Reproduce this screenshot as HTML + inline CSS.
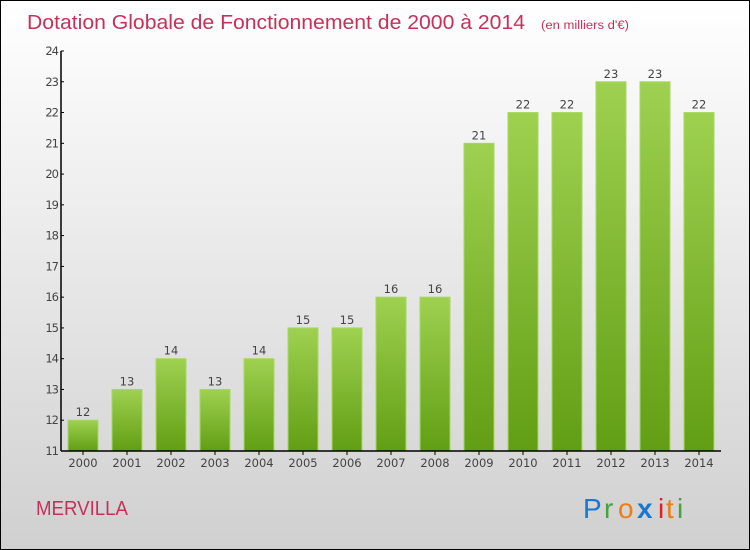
<!DOCTYPE html>
<html><head><meta charset="utf-8"><style>
body{margin:0;}
#c{position:relative;width:748px;height:548px;border:1px solid #000;background:linear-gradient(#fff,#d0d0d0);font-family:"DejaVu Sans","Liberation Sans",sans-serif;overflow:hidden;}
svg{position:absolute;left:0;top:0;}
</style></head><body>
<div id="c">
<svg width="748" height="548" id="s">
<defs><linearGradient id="g" x1="0" y1="0" x2="0" y2="1"><stop offset="0" stop-color="#9ed150"/><stop offset="1" stop-color="#629e15"/></linearGradient></defs>
<text x="26" y="28" font-size="20" fill="#c8305a" font-family="Liberation Sans, sans-serif" textLength="498" lengthAdjust="spacingAndGlyphs">Dotation Globale de Fonctionnement de 2000 à 2014</text>
<text x="540" y="28" font-size="11.5" fill="#c8305a" font-family="Liberation Sans, sans-serif" textLength="88" lengthAdjust="spacingAndGlyphs">(en milliers d'€)</text>
<text x="35" y="514" font-size="20" fill="#c8305a" font-family="Liberation Sans, sans-serif" textLength="92" lengthAdjust="spacingAndGlyphs">MERVILLA</text>
<g font-size="28" font-family="Liberation Sans, sans-serif">
<text x="582" y="517" fill="#1a78cc">P</text><text x="603" y="517" fill="#44a33a">r</text><text x="617" y="517" fill="#f07d10">o</text><text x="636" y="517" fill="#1a78cc" font-weight="bold">x</text><text x="657" y="517" fill="#e02020">i</text><text x="665" y="517" fill="#f07d10">t</text><text x="676" y="517" fill="#44a33a">i</text>
</g>
<g id="plot"></g>
</svg>
</div>
<script>
const years=["2000","2001","2002","2003","2004","2005","2006","2007","2008","2009","2010","2011","2012","2013","2014"];
const values=[12,13,14,13,14,15,15,16,16,21,22,22,23,23,22];
const yTicks=[11,12,13,14,15,16,17,18,19,20,21,22,23,24];
const X0=60,X1=720,Y0=450,Y1=50,YMIN=11,YMAX=24;
const band=(X1-X0)/years.length;
const y=v=>Y0-(v-YMIN)/(YMAX-YMIN)*(Y0-Y1);
const xc=i=>X0+band*(i+0.5);
const ns="http://www.w3.org/2000/svg";
const p=document.getElementById('plot');
function mk(t,a){const e=document.createElementNS(ns,t);for(const k in a)e.setAttribute(k,a[k]);p.appendChild(e);return e;}
values.forEach((v,i)=>{
 const r=mk('rect',{x:xc(i)-15,y:y(v),width:30,height:Y0-y(v),fill:'url(#g)',stroke:'#a8d860','stroke-width':1});
 
 
 const t=mk('text',{x:xc(i),y:y(v)-4,'font-size':11.5,fill:'#444','text-anchor':'middle'});
 t.textContent=v;
 
 
 const xl=mk('text',{x:xc(i),y:Y0+16,'font-size':11.5,fill:'#444','text-anchor':'middle'});
 xl.textContent=years[i];
 
 
 const tk=mk('line',{x1:xc(i),x2:xc(i),y1:Y0,y2:Y0+4,stroke:'#000'});
 
 
});
yTicks.forEach(v=>{
 const tk=mk('line',{x1:X0,x2:X0+3,y1:y(v),y2:y(v),stroke:'#000'});
 
 
 const t=mk('text',{x:X0-3,y:y(v)+4,'font-size':11.5,fill:'#444','text-anchor':'end','letter-spacing':'-1'});
 t.textContent=v;
 
 
});
const ya=mk('line',{x1:X0,x2:X0,y1:Y1,y2:Y0,stroke:'#000','stroke-width':1.5});


const xa=mk('line',{x1:X0,x2:X1,y1:Y0,y2:Y0,stroke:'#000','stroke-width':1.5});


</script>
</body></html>
